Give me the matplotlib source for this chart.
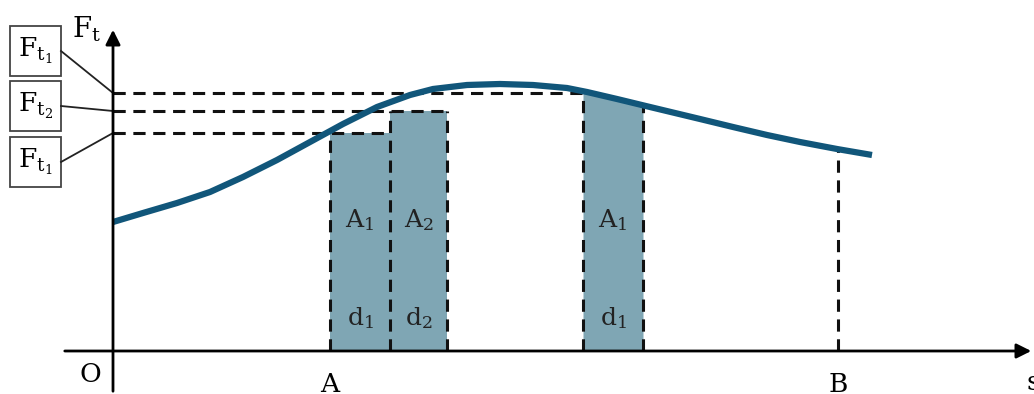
import matplotlib.pyplot as plt
import numpy as np
from matplotlib.patches import Rectangle

plt.rcParams['font.family'] = ['DejaVu Serif']
plt.rcParams['mathtext.fontset'] = 'dejavuserif'

# curve F_t(s) (origin at O)
curve_s = [0, 30, 64, 97, 130, 164, 197, 230, 264, 297, 320, 354, 387, 420,
           454, 474, 504, 537, 587, 620, 654, 687, 724, 759]
curve_f = [129, 138, 148, 159, 174, 191, 209, 227, 244, 256, 262, 266, 267, 266,
           263, 259, 252, 244, 232, 224, 216, 209, 202, 196]

# force levels on the F axis (top, middle, bottom)
f_levels = [258, 240, 218]
f_level_ends = [470, 334, 277]
f_labels = ['$\\mathrm{F}_{\\mathrm{t}_1}$', '$\\mathrm{F}_{\\mathrm{t}_2}$', '$\\mathrm{F}_{\\mathrm{t}_1}$']

# strips: left edge, right edge, height, area label, distance label
strip_left = [217, 277]
strip_right = [277, 334]
strip_top = [218, 240]
strip_area = ['$\\mathrm{A}_1$', '$\\mathrm{A}_2$']
strip_dist = ['$\\mathrm{d}_1$', '$\\mathrm{d}_2$']
# strip under the curve further on
far_left, far_right = 470, 530
s_A, s_B = 217, 725

curve_col = '#11567a'
fill_col = '#7fa6b4'
dash = dict(color='#111111', lw=2.2, dashes=(4, 2.5))

fig = plt.figure(figsize=(10.34, 3.94), dpi=100)
ax = fig.add_axes([0, 0, 1, 1])
ax.set_xlim(-113, 921)
ax.set_ylim(-43, 351)
ax.axis('off')

# fills
for l, r, t in zip(strip_left, strip_right, strip_top):
    ax.add_patch(Rectangle((l, 0), r - l, t, color=fill_col, lw=0, zorder=1))
xs = np.linspace(far_left, far_right, 30)
ax.fill_between(xs, 0, np.interp(xs, curve_s, curve_f), color=fill_col, lw=0, zorder=1)

# dashed guides
for f, e in zip(f_levels, f_level_ends):
    ax.plot([0, e], [f, f], **dash, zorder=2)
ax.plot([strip_left[0]] * 2, [0, strip_top[0]], **dash, zorder=2)
ax.plot([strip_right[0]] * 2, [0, strip_top[1]], **dash, zorder=2)
ax.plot([strip_right[1]] * 2, [0, strip_top[1]], **dash, zorder=2)
ax.plot([far_left] * 2, [0, f_levels[0]], **dash, zorder=2)
ax.plot([far_right] * 2, [0, np.interp(far_right, curve_s, curve_f)], **dash, zorder=2)
ax.plot([s_B] * 2, [0, np.interp(s_B, curve_s, curve_f)], **dash, zorder=2)

# curve
ax.plot(curve_s, curve_f, color=curve_col, lw=4.5, solid_capstyle='butt',
        solid_joinstyle='round', zorder=3)

# axes with arrows
ax.annotate('', xy=(921, 0), xytext=(-51, 0),
            arrowprops=dict(arrowstyle='-|>', color='black', lw=2, mutation_scale=22), zorder=4)
ax.annotate('', xy=(0, 324), xytext=(0, -43),
            arrowprops=dict(arrowstyle='-|>', color='black', lw=2, mutation_scale=22), zorder=4)

# strip labels
for l, r, a, d in zip(strip_left, strip_right, strip_area, strip_dist):
    ax.text((l + r) / 2, 131, a, ha='center', va='center', fontsize=18, color='#222222')
    ax.text((l + r) / 2, 33, d, ha='center', va='center', fontsize=18, color='#222222')
ax.text((far_left + far_right) / 2, 131, '$\\mathrm{A}_1$', ha='center', va='center', fontsize=18, color='#222222')
ax.text((far_left + far_right) / 2, 33, '$\\mathrm{d}_1$', ha='center', va='center', fontsize=18, color='#222222')

# axis labels
ax.text(-23, -24, 'O', ha='center', va='center', fontsize=19)
ax.text(s_A, -34, 'A', ha='center', va='center', fontsize=19)
ax.text(s_B, -34, 'B', ha='center', va='center', fontsize=19)
ax.text(914, -31, 's', ha='left', va='center', fontsize=19)
ax.text(-26, 322, '$\\mathrm{F}_{\\mathrm{t}}$', ha='center', va='center', fontsize=20)

# boxed level labels with leader lines
box_bottoms = [275, 220, 164]
for b, f, lab in zip(box_bottoms, f_levels, f_labels):
    ax.add_patch(Rectangle((-103, b), 51, 50, fill=False, ec='#444444', lw=1.3))
    ax.text(-77.5, b + 25, lab, ha='center', va='center', fontsize=19)
    ax.plot([-52, 0], [b + 25, f], color='#222222', lw=1.3)

fig.savefig('out.png', dpi=100)
